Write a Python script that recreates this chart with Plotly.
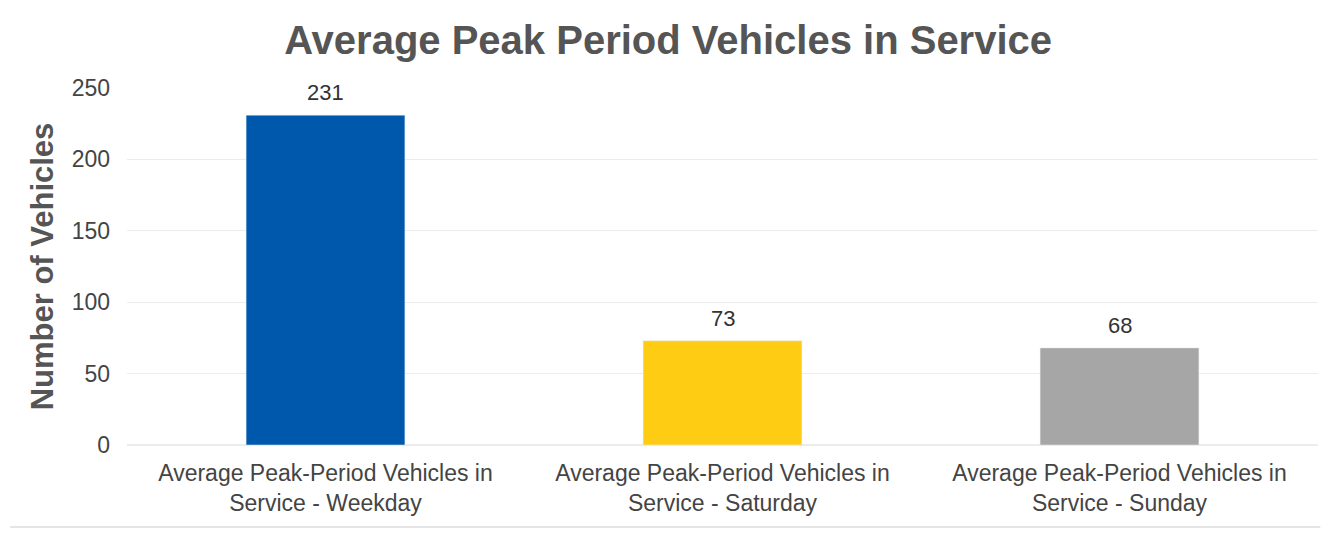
import plotly.graph_objects as go

categories = ["Average Peak-Period Vehicles in<br>Service - Weekday",
              "Average Peak-Period Vehicles in<br>Service - Saturday",
              "Average Peak-Period Vehicles in<br>Service - Sunday"]
values = [231, 73, 68]
colors = ["#0058AC", "#FFCC14", "#A6A6A6"]
y_ticks = [0, 50, 100, 150, 200, 250]

FONT = "Liberation Sans, Arial"

fig = go.Figure(go.Bar(
    x=categories, y=values, marker_color=colors, width=0.4,
    cliponaxis=False,
))

for c, v in zip(categories, values):
    fig.add_annotation(x=c, y=v, text=str(v), showarrow=False,
                       yanchor="bottom", yshift=8,
                       font=dict(size=22, color="#333333", family=FONT))

fig.update_layout(
    width=1339, height=539,
    paper_bgcolor="white", plot_bgcolor="white",
    margin=dict(l=119, r=29, t=80, b=102),
    font=dict(family=FONT, color="#444444"),
    title=dict(text="<b>Average Peak Period Vehicles in Service</b>",
               x=0.493, xref="container", xanchor="center",
               y=0.94, yref="container", yanchor="middle",
               font=dict(size=40, color="#555555")),
    showlegend=False,
    xaxis=dict(tickfont=dict(size=23, color="#444444"), showgrid=False,
               showline=False, ticks="", ticklabelstandoff=12),
    yaxis=dict(range=[0, 250], tickvals=y_ticks, showgrid=True,
               gridcolor="#ECECEC", gridwidth=1, zeroline=True,
               zerolinecolor="#ECECEC", tickfont=dict(size=23, color="#444444"),
               ticklabelstandoff=16,
               title=dict(text="<b>Number of Vehicles</b>",
                          font=dict(size=31, color="#555555"), standoff=8)),
    shapes=[dict(type="line", xref="paper", yref="paper",
                 x0=-0.098, x1=1.002, y0=-0.23, y1=-0.23,
                 line=dict(color="#DDDDDD", width=1.5))],
)

fig.write_html("out.html")
